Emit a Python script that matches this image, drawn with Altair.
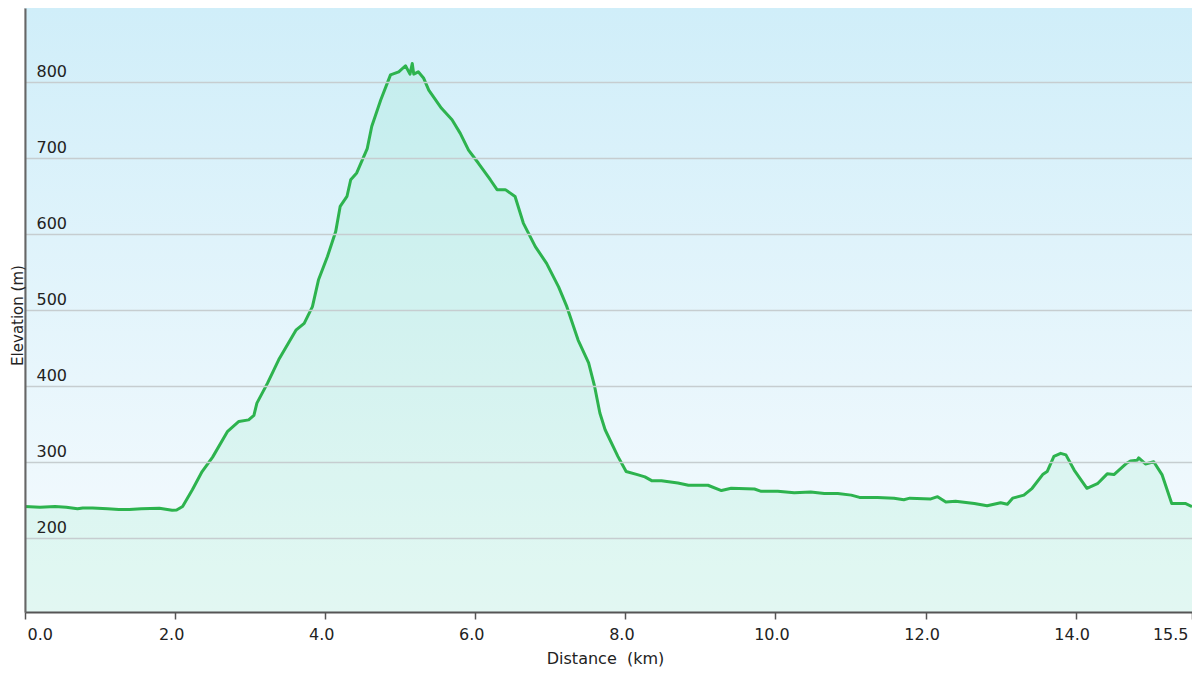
import altair as alt
import pandas as pd

distance_km = [0.00, 0.20, 0.40, 0.55, 0.70, 0.77, 0.90, 1.10, 1.25, 1.39, 1.55, 1.79, 1.96, 2.02,
               2.10, 2.23, 2.36, 2.50, 2.70, 2.85, 2.98, 3.05, 3.09, 3.23, 3.38, 3.61, 3.72, 3.83,
               3.91, 4.03, 4.14, 4.20, 4.29, 4.34, 4.42, 4.56, 4.62, 4.74, 4.87, 4.98, 5.07, 5.13,
               5.16, 5.18, 5.24, 5.31, 5.38, 5.55, 5.69, 5.80, 5.91, 6.04, 6.20, 6.29, 6.40, 6.53,
               6.64, 6.80, 6.95, 7.11, 7.22, 7.37, 7.51, 7.59, 7.66, 7.73, 7.90, 8.01, 8.16, 8.26,
               8.35, 8.48, 8.70, 8.84, 9.10, 9.28, 9.41, 9.72, 9.81, 10.03, 10.25, 10.47, 10.65,
               10.83, 11.01, 11.12, 11.36, 11.58, 11.71, 11.79, 12.07, 12.16, 12.27, 12.40, 12.65,
               12.82, 13.00, 13.09, 13.16, 13.31, 13.42, 13.56, 13.62, 13.71, 13.80, 13.87, 13.98,
               14.15, 14.29, 14.42, 14.51, 14.68, 14.73, 14.82, 14.84, 14.93, 15.04, 15.15, 15.28,
               15.46, 15.55]
elevation_m = [241, 240, 241, 240, 238, 239, 239, 238, 237, 237, 238, 238.7, 236, 236.5,
               241, 263, 287, 306, 340, 353, 355, 361, 377, 403, 434, 473, 482, 504,
               539, 570, 603, 636, 649, 671, 680, 712, 741, 776, 809, 813, 821, 810,
               824, 810, 813, 805, 789, 765, 750, 732, 710, 693, 671, 658, 658, 649,
               614, 583, 561, 530, 504, 460, 430, 399, 364, 342, 307, 287, 283, 280,
               275, 275, 272, 269, 269, 262, 265, 264, 261, 261, 259, 260, 258,
               258, 256, 253, 253, 252, 250, 252, 251, 254, 247, 248, 245,
               242, 246, 244, 252, 256, 265, 283, 287, 307, 311, 309, 289,
               265, 271, 284, 283, 298, 301, 302, 305, 297, 300, 283, 245,
               245, 241]

x_tick_values = [0, 2, 4, 6, 8, 10, 12, 14, 15.55]
y_tick_values = [200, 300, 400, 500, 600, 700, 800]

W, H = 1167, 604
FONT = "DejaVu Sans"
TEXT = "#222222"

df = pd.DataFrame({"Distance": distance_km, "Elevation": elevation_m})

xscale = alt.Scale(domain=[0, 15.55], nice=False, zero=False)
yscale = alt.Scale(domain=[102.2, 897], nice=False, zero=False)

x_axis = alt.Axis(
    values=x_tick_values,
    labelExpr="datum.value > 15 ? '15.5' : format(datum.value, '.1f')",
    grid=False,
    tickSize=7, tickColor="#555555", tickWidth=1.5,
    domainColor="#555555", domainWidth=2,
    labelFont=FONT, labelFontSize=16, labelColor=TEXT,
    labelBaseline="alphabetic", labelPadding=20, labelFlush=False,
    labelAlign={"condition": [{"test": "datum.value < 1", "value": "left"},
                              {"test": "datum.value > 15", "value": "right"}],
                "value": "center"},
    labelOffset={"condition": {"test": "datum.value < 1", "value": 2}, "value": -4},
    title="Distance\u00a0 (km)", titleFont=FONT, titleFontSize=16, titleFontWeight="normal",
    titleColor=TEXT, titleX=580, titleY=51, titleBaseline="alphabetic",
    zindex=1,
)

y_axis = alt.Axis(
    values=y_tick_values,
    grid=True, gridColor="#c6cdd0", gridWidth=1.5,
    ticks=False, tickSize=0,
    domainColor="#666666", domainWidth=2,
    labelFont=FONT, labelFontSize=16, labelColor=TEXT,
    labelAlign="left", labelPadding=-11, labelBaseline="alphabetic", labelOffset=-5,
    title="Elevation (m)", titleFont=FONT, titleFontSize=15, titleFontWeight="normal",
    titleColor=TEXT, titleX=-3, titleY=307, titleAngle=270, titleBaseline="alphabetic",
    titleAlign="center",
    zindex=1,
)

bg = alt.Chart(pd.DataFrame({"k": [0]})).mark_rect(
    fill=alt.Gradient(
        gradient="linear",
        stops=[alt.GradientStop(color="#d0eef9", offset=0),
               alt.GradientStop(color="#f7fbfe", offset=1)],
        x1=0, x2=0, y1=0, y2=1,
    )
).encode(x=alt.value(0), x2=alt.value(W), y=alt.value(0), y2=alt.value(H))

area = alt.Chart(df).mark_area(color="#7eeab6", opacity=0.17, clip=True).encode(
    x=alt.X("Distance:Q", scale=xscale, axis=x_axis),
    y=alt.Y("Elevation:Q", scale=yscale, axis=y_axis),
)

line = alt.Chart(df).mark_line(color="#2db34e", strokeWidth=3, strokeJoin="round").encode(
    x=alt.X("Distance:Q", scale=xscale),
    y=alt.Y("Elevation:Q", scale=yscale),
)

chart = alt.layer(bg, area, line).properties(
    width=W, height=H,
    autosize="none",
    padding={"left": 17, "top": 0, "right": 0, "bottom": 55},
).configure_view(stroke="#cfcfcf", strokeWidth=1.5)

chart.save("out.html", embed_options={"renderer": "svg", "actions": False})
